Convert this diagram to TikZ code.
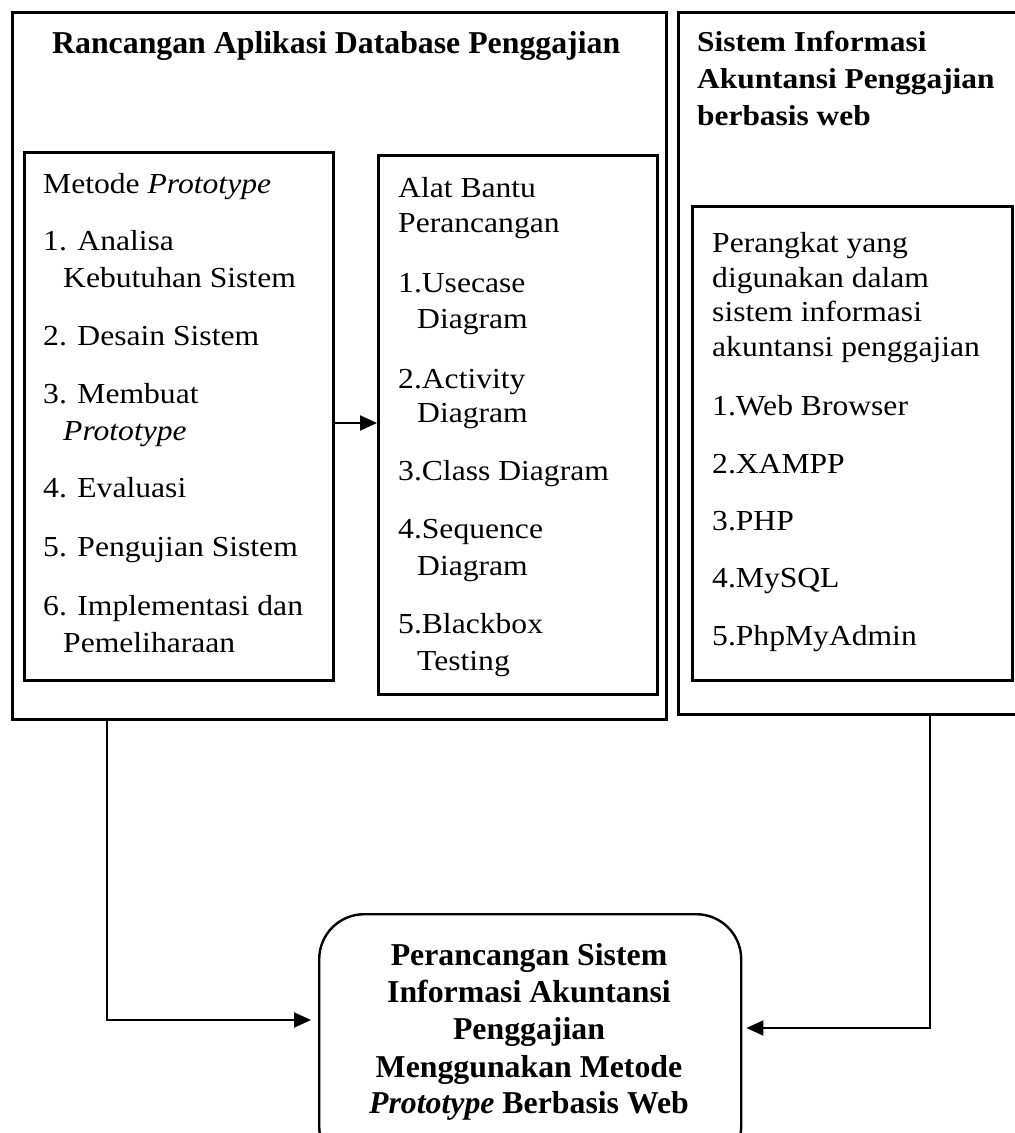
\documentclass[tikz,border=0pt]{standalone}
\usepackage{fontspec}
\setmainfont{Liberation Serif}[FakeStretch=1.09]
\newfontfamily\plainserif{Liberation Serif}
\usetikzlibrary{arrows.meta}
\newcommand\putline[5][]{\node[textline,#1] (#2) at (#3,#4) {#5};}
\tikzset{
  boxs/.style={draw, line width=2.6pt, rectangle, anchor=north west, inner sep=0pt},
  textline/.style={anchor=base west, inner sep=0pt, font=\fontsize{29}{35}\selectfont},
  ctext/.style={anchor=base, inner sep=0pt, font=\plainserif\bfseries\fontsize{31.8}{37}\selectfont},
  conn/.style={line width=2pt, -{Triangle[length=17pt,width=15pt]}},
}
\begin{document}
\begin{tikzpicture}[x=1pt,y=-1pt]
\useasboundingbox (0,0) rectangle (1015,1133);
\clip (0,0) rectangle (1015,1133);
% boxes
\node[boxs, minimum width=654pt, minimum height=707pt] (outerL) at (11,11) {};
\node[boxs, minimum width=309pt, minimum height=528pt] (metode) at (23,151) {};
\node[boxs, minimum width=279pt, minimum height=539pt] (alat) at (377,154) {};
\node[boxs, minimum width=363pt, minimum height=702pt] (outerR) at (677,11) {};
\node[boxs, minimum width=320pt, minimum height=474pt] (perangkat) at (691,205) {};
\node[boxs, line width=2.4pt, rounded corners=45pt, minimum width=422pt, minimum height=257pt] (final) at (318,913) {};
% left title
\putline[font=\plainserif\bfseries\fontsize{31.8}{37}\selectfont]{tL}{52}{53}{Rancangan Aplikasi Database Penggajian}
% metode column
\putline{m0}{43}{193}{Metode \textit{Prototype}}
\putline{m1}{43}{250}{1. Analisa}
\putline{m1b}{63}{287}{Kebutuhan Sistem}
\putline{m2}{43}{345}{2. Desain Sistem}
\putline{m3}{43}{403}{3. Membuat}
\putline{m3b}{63}{440}{\textit{Prototype}}
\putline{m4}{43}{497}{4. Evaluasi}
\putline{m5}{43}{556}{5. Pengujian Sistem}
\putline{m6}{43}{615}{6. Implementasi dan}
\putline{m6b}{63}{652}{Pemeliharaan}
% alat column
\putline{a0}{398}{197}{Alat Bantu}
\putline{a0b}{398}{232}{Perancangan}
\putline{a1}{398}{292}{1.Usecase}
\putline{a1b}{417}{328}{Diagram}
\putline{a2}{398}{388}{2.Activity}
\putline{a2b}{417}{422}{Diagram}
\putline{a3}{398}{480}{3.Class Diagram}
\putline{a4}{398}{538}{4.Sequence}
\putline{a4b}{417}{575}{Diagram}
\putline{a5}{398}{633}{5.Blackbox}
\putline{a5b}{417}{670}{Testing}
% right title
\putline[font=\bfseries\fontsize{28.8}{37}\selectfont]{tR1}{697}{51}{Sistem Informasi}
\putline[font=\bfseries\fontsize{28.8}{37}\selectfont]{tR2}{697}{88}{Akuntansi Penggajian}
\putline[font=\bfseries\fontsize{28.8}{37}\selectfont]{tR3}{697}{125}{berbasis web}
% perangkat column
\putline{p0}{712}{252}{Perangkat yang}
\putline{p0b}{712}{287}{digunakan dalam}
\putline{p0c}{712}{321}{sistem informasi}
\putline{p0d}{712}{356}{akuntansi penggajian}
\putline{p1}{712}{415}{1.Web Browser}
\putline{p2}{712}{473}{2.XAMPP}
\putline{p3}{712}{530}{3.PHP}
\putline{p4}{712}{587}{4.MySQL}
\putline{p5}{712}{645}{5.PhpMyAdmin}
% final box text
\node[ctext] (f1) at (529,965) {Perancangan Sistem};
\node[ctext] (f2) at (529,1002) {Informasi Akuntansi};
\node[ctext] (f3) at (529,1039) {Penggajian};
\node[ctext] (f4) at (529,1077) {Menggunakan Metode};
\node[ctext] (f5) at (529,1113) {\textit{Prototype} Berbasis Web};
% connectors
\coordinate (mid) at (332,423);
\draw[conn] (metode.east |- mid) -- (alat.west |- mid);
\coordinate (la) at (107,1020);
\draw[conn, shorten >=7pt] (outerL.south -| la) -- (la) -- (final.west |- la);
\coordinate (ra) at (930,1028);
\draw[conn, shorten >=4pt] (outerR.south -| ra) -- (ra) -- (final.east |- ra);
\end{tikzpicture}
\end{document}
